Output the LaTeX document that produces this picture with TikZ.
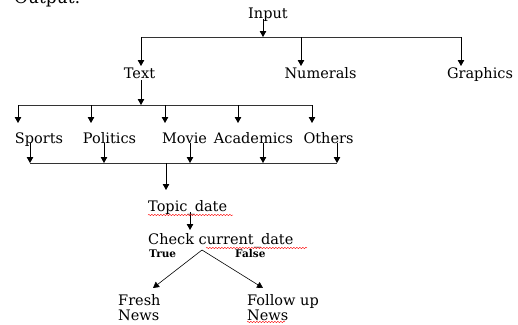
\documentclass[tikz,border=0pt]{standalone}
\usepackage{fontspec}
\setmainfont{DejaVu Serif}
\usetikzlibrary{arrows.meta,decorations.pathmorphing}
\newcommand{\lblfont}{\fontsize{14.5}{15}\selectfont}
\newcommand{\tffont}{\fontsize{10.5}{11}\selectfont\bfseries}
\tikzset{
  lbl/.style={inner sep=0pt, font=\lblfont, anchor=base},
  tf/.style={inner sep=0pt, font=\tffont, anchor=base west},
  arr/.style={-{Triangle[length=6pt,width=6.5pt]}, line width=0.8pt},
  bus/.style={line width=0.8pt, draw=black!80},
  squig/.style={red, line width=0.4pt, decorate, decoration={snake, amplitude=0.7pt, segment length=3pt}}
}
\begin{document}
\begin{tikzpicture}[x=1pt,y=-1pt]
\useasboundingbox (0,0) rectangle (518,324);
\node[inner sep=0pt, font=\fontsize{17}{20}\selectfont, anchor=base west] (out) at (14,4) {Output:};
\node[lbl] (input) at (268,18) {Input};
\node[lbl] (text) at (139.5,78) {Text};
\node[lbl] (num) at (320.5,78) {Numerals};
\node[lbl] (gra) at (480,78) {Graphics};
\node[lbl] (sports) at (39,143) {Sports};
\node[lbl] (pol) at (109.5,143) {Politics};
\node[lbl] (movie) at (184.5,143) {Movie};
\node[lbl] (acad) at (253.5,143) {Academics};
\node[lbl] (oth) at (328.5,143) {Others};
\node[lbl, anchor=base west] (topic) at (148,211) {Topic\_date};
\node[lbl, anchor=base west] (check) at (148,244) {Check current\_date};
\node[tf] (true) at (149,257) {True};
\node[tf] (false) at (235,257) {False};
\node[lbl, anchor=base west] (fresh) at (118,305.5) {Fresh};
\node[lbl, anchor=base west] (fnews) at (118,320) {News};
\node[lbl, anchor=base west] (follow) at (247,305.5) {Follow up};
\node[lbl, anchor=base west] (unews) at (247,320) {News};
% level 1
\coordinate (j0) at (263,37);
\coordinate (b1) at (141,37);
\coordinate (b2) at (301,37);
\coordinate (b3) at (461,37);
\draw[bus] (b1) -- (b3);
\draw[arr] (263,19) -- (j0);
\draw[arr] (b1) -- (141,66);
\draw[arr] (b2) -- (301,66);
\draw[arr] (b3) -- (461,66);
% level 2
\coordinate (t0) at (141,105);
\coordinate (c1) at (18,105);
\coordinate (c5) at (312,105);
\draw[bus] (c1) -- (c5);
\draw[arr] (141,80) -- (t0);
\foreach \x in {18,91,165,238,312} \draw[arr] (\x,105) -- (\x,123);
% level 3
\coordinate (d1) at (30,163);
\coordinate (d5) at (337,163);
\draw[bus] (d1) -- (d5);
\draw[arr] (30,143) -- (d1);
\draw[arr] (104,143) -- (104,163);
\draw[arr] (190,143) -- (190,163);
\draw[arr] (263,143) -- (263,163);
\draw[arr] (337,143) -- (d5);
\coordinate (e0) at (166,163);
\draw[arr] (e0) -- (166,190);
% topic to check
\coordinate (f1) at (190,212);
\draw[arr] (f1) -- (190,230);
% split
\coordinate (apex) at (202,250);
\coordinate (lt) at (153,288);
\coordinate (rt) at (263,288);
\draw[arr, line width=0.6pt] (apex) -- (lt);
\draw[arr, line width=0.6pt] (apex) -- (rt);
% squiggles
\draw[squig] (148,215) -- (233,215);
\draw[squig] (206,248) -- (307,248);
\draw[squig] (247,322) -- (285,322);
\end{tikzpicture}
\end{document}
